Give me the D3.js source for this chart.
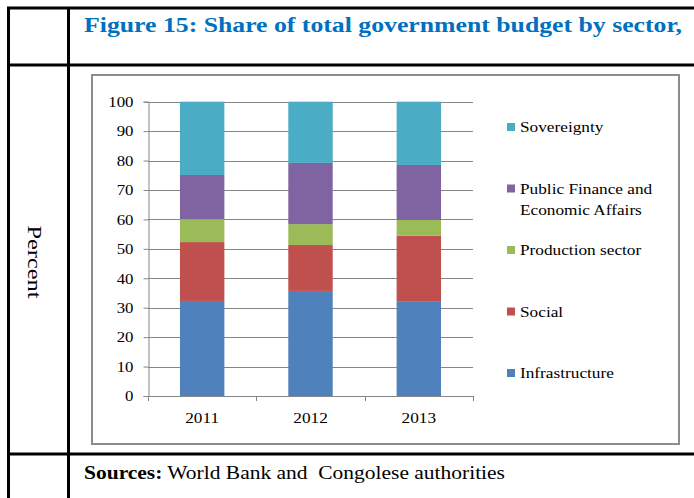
<!DOCTYPE html>
<html>
<head>
<meta charset="utf-8">
<script src="https://cdn.jsdelivr.net/npm/d3@7"></script>
<style>
  html, body { margin: 0; padding: 0; background: #fff; }
  svg { display: block; }
  svg text { font-family: "Liberation Serif", "Times New Roman", serif; }
</style>
</head>
<body>
<svg id="chart" width="694" height="498"></svg>
<script>
// Share of total government budget by sector (percent)
const years = ["2011", "2012", "2013"];
const series = ["Infrastructure", "Social", "Production sector", "Public Finance and Economic Affairs", "Sovereignty"];
const infrastructure = [32.3, 35.7, 32.0];
const social         = [20.0, 15.6, 22.5];
const production     = [7.8, 7.1, 5.3];
const publicFinance  = [15.0, 20.8, 18.7];
const sovereignty    = [24.9, 20.8, 21.5];
const yTicks = [0, 10, 20, 30, 40, 50, 60, 70, 80, 90, 100];
const legendLines = {
  "Infrastructure": ["Infrastructure"],
  "Social": ["Social"],
  "Production sector": ["Production sector"],
  "Public Finance and Economic Affairs": ["Public Finance and", "Economic Affairs"],
  "Sovereignty": ["Sovereignty"]
};
const colors = ["#4F81BD", "#C0504D", "#9BBB59", "#8064A2", "#4BACC6"];

const SERIF = "Liberation Serif, Times New Roman, serif";

const rows = years.map((y, i) => ({
  year: y,
  "Infrastructure": infrastructure[i],
  "Social": social[i],
  "Production sector": production[i],
  "Public Finance and Economic Affairs": publicFinance[i],
  "Sovereignty": sovereignty[i]
}));

const svg = d3.select("#chart");

// stretch a text element horizontally to mimic the wide serif lettering
function stretch(sel, f) {
  sel.each(function () {
    const len = this.getComputedTextLength();
    d3.select(this).attr("textLength", len * f).attr("lengthAdjust", "spacingAndGlyphs");
  });
}

// ---- table frame ----
const frame = svg.append("g").attr("stroke", "#000").attr("stroke-width", 3);
frame.append("line").attr("x1", 7).attr("x2", 694).attr("y1", 8).attr("y2", 8);
frame.append("line").attr("x1", 7).attr("x2", 694).attr("y1", 65).attr("y2", 65);
frame.append("line").attr("x1", 7).attr("x2", 694).attr("y1", 454).attr("y2", 454);
frame.append("line").attr("x1", 8.5).attr("x2", 8.5).attr("y1", 7).attr("y2", 498);
frame.append("line").attr("x1", 68.5).attr("x2", 68.5).attr("y1", 7).attr("y2", 498);

// ---- title ----
svg.append("text")
  .attr("x", 84).attr("y", 32)
  .attr("fill", "#0070C0")
  .attr("font-family", SERIF)
  .attr("font-weight", "bold")
  .attr("font-size", 22)
  .attr("textLength", 598).attr("lengthAdjust", "spacingAndGlyphs")
  .text("Figure 15: Share of total government budget by sector,");

// ---- side label ----
svg.append("text")
  .attr("transform", "translate(28,262) rotate(90)")
  .attr("text-anchor", "middle")
  .attr("font-family", SERIF)
  .attr("font-size", 19)
  .attr("fill", "#000")
  .attr("textLength", 73).attr("lengthAdjust", "spacingAndGlyphs")
  .text("Percent");

// ---- sources ----
const src = svg.append("text").attr("x", 84).attr("y", 479)
  .attr("font-family", SERIF).attr("font-size", 18).attr("fill", "#000");
src.append("tspan").attr("font-weight", "bold").text("Sources:");
src.append("tspan").text(" World Bank and\u00a0 Congolese authorities");
src.attr("textLength", 421).attr("lengthAdjust", "spacingAndGlyphs");

// ---- chart area border ----
svg.append("rect")
  .attr("x", 92).attr("y", 75).attr("width", 587).attr("height", 369)
  .attr("fill", "#fff").attr("stroke", "#8c8c8c").attr("stroke-width", 2);

// ---- scales ----
const x = d3.scaleBand().domain(years).range([148, 473]).paddingInner(0.59).paddingOuter(0.295);
const y = d3.scaleLinear().domain([0, 100]).range([396, 101.7]);

// gridlines
svg.append("g")
  .selectAll("line").data(yTicks.filter(t => t > 0)).join("line")
  .attr("x1", 148).attr("x2", 473)
  .attr("y1", d => Math.round(y(d)) + 0.5).attr("y2", d => Math.round(y(d)) + 0.5)
  .attr("stroke", "#868686").attr("stroke-width", 1);

// stacked bars
const stack = d3.stack().keys(series)(rows);
svg.append("g")
  .selectAll("g").data(stack).join("g")
  .attr("fill", (d, i) => colors[i])
  .selectAll("rect").data(d => d).join("rect")
  .attr("x", d => x(d.data.year))
  .attr("width", x.bandwidth())
  .attr("y", d => y(d[1]))
  .attr("height", d => y(d[0]) - y(d[1]));

// y axis
const yAxis = svg.append("g")
  .attr("transform", "translate(148.5,0)")
  .call(d3.axisLeft(y).tickValues(yTicks).tickSize(5).tickPadding(10).tickFormat(d3.format("d")));
yAxis.attr("font-family", SERIF);
yAxis.selectAll("path, line").attr("stroke", "#868686");
yAxis.selectAll("text").attr("font-size", 15).attr("fill", "#000")
  .attr("font-family", SERIF).call(stretch, 1.12);

// x axis with ticks at category boundaries
const step = x.step();
const bounds = d3.range(years.length + 1).map(i => x.range()[0] + i * step);
const xg = svg.append("g");
xg.append("line").attr("x1", bounds[0]).attr("x2", bounds[bounds.length - 1])
  .attr("y1", y(0) + 0.5).attr("y2", y(0) + 0.5).attr("stroke", "#868686");
xg.selectAll("line.tk").data(bounds).join("line").attr("class", "tk")
  .attr("x1", d => Math.round(d) + 0.5).attr("x2", d => Math.round(d) + 0.5)
  .attr("y1", y(0)).attr("y2", y(0) + 5).attr("stroke", "#868686");
xg.selectAll("text").data(years).join("text")
  .attr("x", d => x(d) + x.bandwidth() / 2)
  .attr("y", 423)
  .attr("text-anchor", "middle")
  .attr("font-family", SERIF)
  .attr("font-size", 15).attr("fill", "#000")
  .text(d => d)
  .call(stretch, 1.15);

// legend
const ly = d3.scalePoint().domain(series.slice().reverse()).range([127, 373]);
const lg = svg.append("g").selectAll("g").data(series).join("g")
  .attr("transform", d => `translate(507,${ly(d)})`);
lg.append("rect").attr("x", 0).attr("y", -4).attr("width", 8).attr("height", 8)
  .attr("fill", (d, i) => colors[i]);
lg.each(function (d) {
  const g = d3.select(this);
  legendLines[d].forEach((line, j) => {
    g.append("text").attr("x", 13).attr("y", 5 + j * 21)
      .attr("font-family", SERIF)
      .attr("font-size", 15).attr("fill", "#000").text(line)
      .call(stretch, 1.15);
  });
});
</script>
</body>
</html>
